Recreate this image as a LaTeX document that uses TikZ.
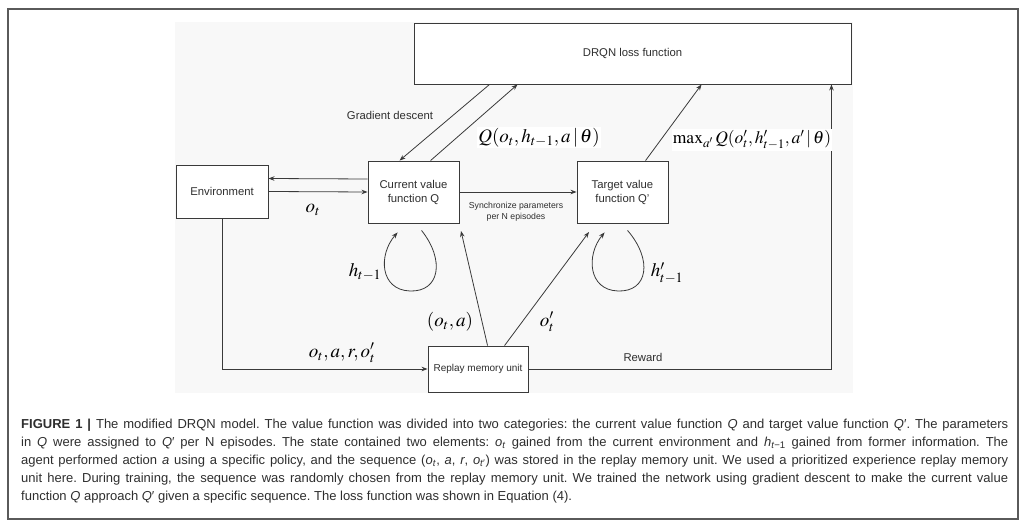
\documentclass[tikz,border=0pt]{standalone}
\usepackage{mathptmx}
\usepackage[no-math]{fontspec}
\setmainfont{Liberation Sans}
\usetikzlibrary{arrows.meta}
\definecolor{ln}{HTML}{3A3A3A}
\definecolor{txt}{HTML}{2E2E2E}
\definecolor{frm}{HTML}{5A5A5A}
\definecolor{bg}{HTML}{F8F8F8}
\tikzset{
  box/.style={draw=ln, line width=0.9pt, inner sep=0pt, align=center, text=txt,
    font=\fontsize{11.3}{14}\selectfont},
  arr/.style={draw=ln, line width=0.8pt, -{Stealth[length=6pt,width=4.5pt]}},
  ml/.style={text=black, inner sep=1pt, font=\fontsize{19}{22}\selectfont},
  tl/.style={text=txt, inner sep=0pt, font=\fontsize{11.3}{14}\selectfont},
}
\begin{document}
\begin{tikzpicture}[x=1pt,y=-1pt]
\useasboundingbox (0,0) rectangle (1028,529);
% frame and diagram background
\draw[frm, line width=1.5pt] (8,9) rectangle (1018,519);
\fill[bg] (175,22) rectangle (853,393);

% boxes
\node[box, fill=white, minimum width=437pt, minimum height=61pt] (drqn) at (632.5,53.5) {DRQN loss function};
\node[box, fill=white, minimum width=92pt, minimum height=53pt] (env) at (222,191.5) {Environment};
\node[box, fill=white, minimum width=91pt, minimum height=62pt] (cur) at (413.5,192) {Current value\\function Q};
\node[box, fill=white, minimum width=91pt, minimum height=62pt] (tgt) at (622.5,192) {Target value\\function Q'};
\node[box, fill=white, minimum width=100pt, minimum height=46pt, font=\fontsize{10}{12}\selectfont] (rep) at (478,369) {Replay memory unit};

% free ends
\coordinate (ca) at (461,231);
\coordinate (ta) at (589,232);

% connectors
\draw[arr] ([yshift=13pt]cur.west) -- ([yshift=13pt]env.east);
\draw[arr] (env.east) -- (cur.west);
\draw[arr] (cur.east) -- (tgt.west);
\draw[arr] ([xshift=76pt]drqn.south west) -- ([xshift=32pt]cur.north west);
\draw[arr] ([xshift=63pt]cur.north west) -- ([xshift=104pt]drqn.south west);
\draw[arr] ([xshift=69pt]tgt.north west) -- ([xshift=288pt]drqn.south west);
\draw[arr] (rep.east) -| ([xshift=-20pt]drqn.south east);
\draw[arr] (env.south) |- (rep.west);
\draw[arr] ([xshift=60pt]rep.north west) -- (ca);
\draw[arr] ([xshift=77pt]rep.north west) -- (ta);

% self loops
\draw[arr] ([xshift=54pt,yshift=-7pt]cur.south west) .. controls (445,260) and (440,292) .. (410,291)
  .. controls (380,290) and (378,255) .. ([xshift=30pt,yshift=-9pt]cur.south west);
\draw[arr] ([xshift=51pt,yshift=-7pt]tgt.south west) .. controls (653,260) and (648,292) .. (618,291)
  .. controls (588,290) and (586,255) .. ([xshift=28pt,yshift=-9pt]tgt.south west);

% labels
\node[tl] (gd) at (390,115) {Gradient descent};
\node[tl, align=center, font=\fontsize{8.7}{10.5}\selectfont] (sync) at (516,212) {Synchronize parameters\\per N episodes};
\node[tl] (rw) at (643,357) {Reward};
\node[ml, fill=white] (ql) at (539,138) {$Q(o_t,h_{t-1},a\,|\,\theta)$};
\node[ml, fill=white, font=\fontsize{17.5}{21}\selectfont] (mql) at (752,140) {$\max_{a^{\prime}} Q(o^{\prime}_{t},h^{\prime}_{t-1},a^{\prime}\,|\,\theta)$};
\node[ml] (otl) at (313,210) {$o_t$};
\node[ml] (hl) at (365,272) {$h_{t-1}$};
\node[ml] (hpl) at (667,273) {$h^{\prime}_{t-1}$};
\node[ml] (oal) at (450,322) {$(o_t,a)$};
\node[ml] (opl) at (547,322) {$o^{\prime}_{t}$};
\node[ml] (seql) at (342,353) {$o_t,a,r,o^{\prime}_{t}$};

% caption
\node[anchor=north west, inner sep=0pt, text width=987pt, align=justify, text=txt,
  font=\fontsize{13}{18}\selectfont\frenchspacing] (cap) at (21,419) {%
{\bfseries FIGURE 1 |} The modified DRQN model. The value function was divided into two categories: the current value function \textit{Q} and target value function \textit{Q}′. The parameters\linebreak
in \textit{Q} were assigned to \textit{Q}′ per N episodes. The state contained two elements: \textit{o}\textsubscript{\textit{t}} gained from the current environment and \textit{h}\textsubscript{\textit{t}−1} gained from former information. The\linebreak
agent performed action \textit{a} using a specific policy, and the sequence (\textit{o}\textsubscript{\textit{t}}, \textit{a}, \textit{r}, \textit{o}\textsubscript{\textit{t}′}) was stored in the replay memory unit. We used a prioritized experience replay memory\linebreak
unit here. During training, the sequence was randomly chosen from the replay memory unit. We trained the network using gradient descent to make the current value\linebreak
function \textit{Q} approach \textit{Q}′ given a specific sequence. The loss function was shown in Equation (4).};
\end{tikzpicture}
\end{document}
